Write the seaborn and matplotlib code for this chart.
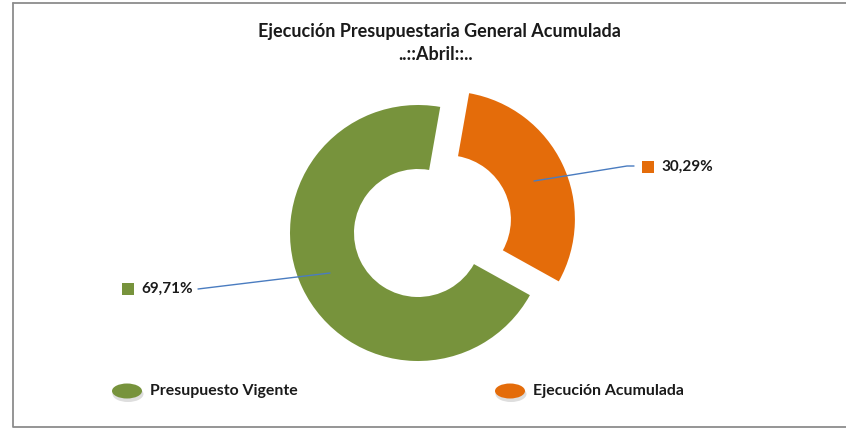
import matplotlib
matplotlib.use("Agg")
import matplotlib.pyplot as plt
import seaborn as sns
import pandas as pd
from matplotlib.patches import Ellipse
from matplotlib.lines import Line2D

# ---- data ----
categories = ["Presupuesto Vigente", "Ejecución Acumulada"]
values = [69.71, 30.29]
value_labels = ["69,71%", "30,29%"]
colors = ["#77933C", "#E46C0A"]
title_lines = ["Ejecución Presupuestaria General Acumulada", "..::Abril::.."]

df = pd.DataFrame({"categoria": categories, "valor": values, "etiqueta": value_labels})

sns.set_theme(style="white")
plt.rcParams["font.family"] = ["Lato", "DejaVu Sans"]

W, H = 846, 430
fig = plt.figure(figsize=(W / 100, H / 100), dpi=100)
ax = fig.add_axes([0, 0, 1, 1])

def Y(y):
    return H - y

cx, cy, R, ring = 418, 233, 128, 64
ax.pie(df["valor"], colors=colors, startangle=-29.05, counterclock=False,
       explode=[0, 32], radius=R, center=(cx, Y(cy)),
       wedgeprops=dict(width=ring, edgecolor="none"))

ax.set_xlim(0, W)
ax.set_ylim(0, H)
ax.set_aspect("auto")
ax.axis("off")

# frame
fig.add_artist(Line2D([13 / W, 13 / W, 1.0], [1 - 3 / H, 1 - 427 / H, 1 - 427 / H],
                      transform=fig.transFigure, color="#8c8c8c", lw=1.3))
fig.add_artist(Line2D([13 / W, 1.0], [1 - 3 / H, 1 - 3 / H],
                      transform=fig.transFigure, color="#8c8c8c", lw=1.3))

# title
ax.text(439, Y(31), title_lines[0], ha="center", va="center", fontsize=13,
        fontweight="bold", color="#1a1a1a")
ax.text(436, Y(55), title_lines[1], ha="center", va="center", fontsize=13,
        fontweight="bold", color="#1a1a1a")

# data labels with leader lines
lab = pd.DataFrame({
    "x": [128, 648], "y": [Y(289), Y(167)], "cat": categories,
})
sns.scatterplot(data=lab, x="x", y="y", hue="cat", palette=colors, marker="s",
                s=70, linewidth=0, legend=False, ax=ax)
ax.text(141, Y(289), df["etiqueta"][0], ha="left", va="center", fontsize=11,
        fontweight="bold", color="#1a1a1a")
ax.text(661, Y(167), df["etiqueta"][1], ha="left", va="center", fontsize=11,
        fontweight="bold", color="#1a1a1a")
ax.plot([198, 330], [Y(289), Y(273)], color="#4a7cc0", lw=1)
ax.plot([534, 627, 634], [Y(181), Y(166), Y(166)], color="#4a7cc0", lw=1)

# legend
for (ex, ey), col, name, tx in [((127, 391), colors[0], categories[0], 150),
                                 ((510, 391), colors[1], categories[1], 533)]:
    ax.add_patch(Ellipse((ex + 1, Y(ey + 3)), 31, 16, color="#c8c8c8", alpha=0.6, lw=0))
    ax.add_patch(Ellipse((ex, Y(ey)), 30, 15, color=col, lw=0))
    ax.text(tx, Y(ey), name, ha="left", va="center", fontsize=11.4,
            fontweight="bold", color="#1a1a1a")

fig.savefig("out.png", dpi=100, facecolor="white")
